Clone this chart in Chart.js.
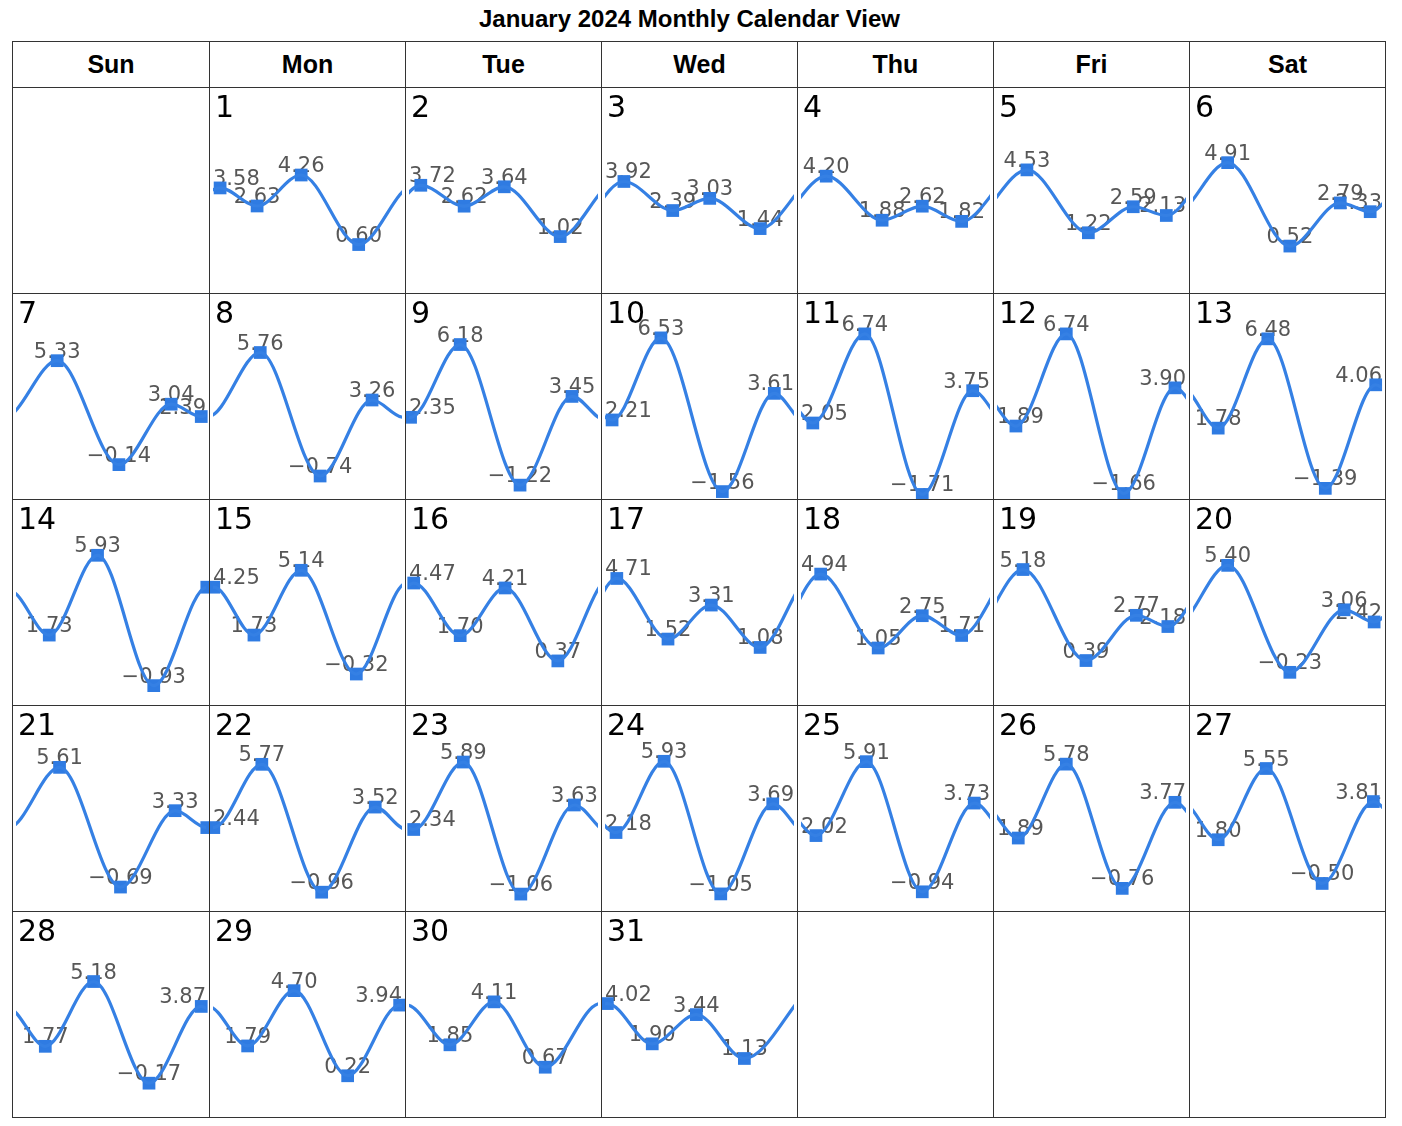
<!DOCTYPE html>
<html>
<head>
<meta charset="utf-8">
<script src="https://cdn.jsdelivr.net/npm/chart.js@4.4.1/dist/chart.umd.min.js"></script>
<style>
  html, body { margin: 0; padding: 0; background: #fff; }
  body { width: 1402px; height: 1126px; position: relative; overflow: hidden; font-family: "Liberation Sans", Arial, sans-serif; }
  #title { position: absolute; left: 0; width: 1379px; top: 5px; text-align: center; font: bold 24px "Liberation Sans", Arial, sans-serif; color: #000; line-height: 28px; }
  .cell { position: absolute; box-sizing: border-box; border: 1px solid #333; background: #fff; }
  .head { display: flex; align-items: center; justify-content: center; font: bold 25px "Liberation Sans", Arial, sans-serif; color: #000; }
  .daynum { position: absolute; left: 5px; top: 4px; font: 30px "DejaVu Sans", sans-serif; color: #000; line-height: 1; z-index: 2; pointer-events: none; }
  canvas { position: absolute; left: 0; top: 0; }
</style>
</head>
<body>
<div id="title">January 2024 Monthly Calendar View</div>
<div id="grid"></div>
<script>
// ---------------- data ----------------
const monthTitle = "January 2024 Monthly Calendar View";
const weekdays = ["Sun", "Mon", "Tue", "Wed", "Thu", "Fri", "Sat"];
const firstWeekday = 1;   // Jan 1 2024 is a Monday
const daysInMonth = 31;

// hour of day of each high / low tide marker, per day (Jan 1 .. Jan 31)
const tideHours = [
  [0.9, 5.6, 11.2, 18.5],   // 1
  [1.5, 7.0, 12.1, 19.2],   // 2
  [2.4, 8.6, 13.3, 19.7],   // 3
  [3.2, 10.3, 15.4, 20.4],  // 4
  [3.8, 11.6, 17.3, 21.5],  // 5
  [4.4, 12.3, 18.7, 22.5],  // 6
  [5.2, 13.0, 19.6, 23.4],  // 7
  [6.0, 13.6, 20.2],        // 8
  [0.2, 6.5, 14.1, 20.7],   // 9
  [0.9, 7.1, 14.9, 21.5],   // 10
  [1.5, 8.1, 15.4, 21.8],   // 11
  [2.4, 8.8, 16.1, 22.6],   // 12
  [3.2, 9.5, 16.8, 23.2],   // 13
  [4.2, 10.3, 17.4],        // 14
  [0.1, 5.2, 11.2, 18.2],   // 15
  [0.6, 6.5, 12.2, 18.9],   // 16
  [1.5, 8.0, 13.5, 19.7],   // 17
  [2.5, 9.8, 15.4, 20.4],   // 18
  [3.3, 11.3, 17.7, 21.7],  // 19
  [4.4, 12.3, 19.2, 23.0],  // 20
  [5.5, 13.2, 20.1],        // 21
  [0.1, 6.2, 13.8, 20.6],   // 22
  [0.6, 6.9, 14.2, 21.0],   // 23
  [1.4, 7.5, 14.7, 21.3],   // 24
  [1.9, 8.3, 15.4, 22.0],   // 25
  [2.7, 8.8, 15.9, 22.6],   // 26
  [3.2, 9.3, 16.4, 22.9],   // 27
  [3.7, 9.8, 16.8, 23.4],   // 28
  [4.4, 10.3, 17.1, 23.7],  // 29
  [5.2, 10.8, 17.3],        // 30
  [0.3, 6.0, 11.6, 17.7]    // 31
];
// tide height at each marker, per day
const tideHeights = [
  [3.58, 2.63, 4.26, 0.60],
  [3.72, 2.62, 3.64, 1.02],
  [3.92, 2.39, 3.03, 1.44],
  [4.20, 1.88, 2.62, 1.82],
  [4.53, 1.22, 2.59, 2.13],
  [4.91, 0.52, 2.79, 2.33],
  [5.33, -0.14, 3.04, 2.39],
  [5.76, -0.74, 3.26],
  [2.35, 6.18, -1.22, 3.45],
  [2.21, 6.53, -1.56, 3.61],
  [2.05, 6.74, -1.71, 3.75],
  [1.89, 6.74, -1.66, 3.90],
  [1.78, 6.48, -1.39, 4.06],
  [1.73, 5.93, -0.93],
  [4.25, 1.73, 5.14, -0.32],
  [4.47, 1.70, 4.21, 0.37],
  [4.71, 1.52, 3.31, 1.08],
  [4.94, 1.05, 2.75, 1.71],
  [5.18, 0.39, 2.77, 2.18],
  [5.40, -0.23, 3.06, 2.42],
  [5.61, -0.69, 3.33],
  [2.44, 5.77, -0.96, 3.52],
  [2.34, 5.89, -1.06, 3.63],
  [2.18, 5.93, -1.05, 3.69],
  [2.02, 5.91, -0.94, 3.73],
  [1.89, 5.78, -0.76, 3.77],
  [1.80, 5.55, -0.50, 3.81],
  [1.77, 5.18, -0.17, 3.87],
  [1.79, 4.70, 0.22, 3.94],
  [1.85, 4.11, 0.67],
  [4.02, 1.90, 3.44, 1.13]
];
// neighbouring tides outside the month (hours relative to Jan 1 / Jan 31 midnight)
const dec31Hours = [-6.6];
const dec31Heights = [0.30];
const feb1Hours = [25.4];
const feb1Heights = [4.60];

// ---------------- layout ----------------
const colX = [12, 209, 405, 601, 797, 993, 1189, 1385];
const rowY = [41, 87, 293, 499, 705, 911, 1117];
const LINE = '#3580e4';
const MARK = '#2f7be2';
const yMin = -1.95, yMax = 8.84;
const edgeTol = 0.15;   // neighbour markers shown only when sitting on the day boundary

const grid = document.getElementById('grid');
document.getElementById('title').textContent = monthTitle;

function makeCell(c, r) {
  const d = document.createElement('div');
  d.className = 'cell';
  d.style.left = colX[c] + 'px';
  d.style.top = rowY[r] + 'px';
  d.style.width = (colX[c + 1] - colX[c] + 1) + 'px';
  d.style.height = (rowY[r + 1] - rowY[r] + 1) + 'px';
  grid.appendChild(d);
  return d;
}

weekdays.forEach((w, c) => {
  const d = makeCell(c, 0);
  d.classList.add('head');
  d.textContent = w;
});

function pts(hours, heights, shift) {
  return hours.map((h, i) => ({ x: h + shift, y: heights[i] }));
}

const labelPlugin = {
  id: 'tideLabels',
  beforeDatasetsDraw(chart) {
    const meta = chart.getDatasetMeta(1);
    const ds = chart.data.datasets[1];
    const area = chart.chartArea;
    const ctx = chart.ctx;
    ctx.save();
    ctx.font = '21px "DejaVu Sans", sans-serif';
    ctx.fillStyle = '#575757';
    ctx.textBaseline = 'alphabetic';
    ctx.textAlign = 'left';
    meta.data.forEach((el, i) => {
      const raw = ds.data[i];
      if (!raw.own) return;
      const txt = raw.y.toFixed(2).replace('-', '\u2212');
      const w = ctx.measureText(txt).width;
      let left = el.x - w / 2;
      if (left < area.left) left = area.left;
      if (left + w > area.right) left = area.right - w;
      ctx.fillText(txt, left, el.y - 3);
    });
    ctx.restore();
  }
};

for (let r = 0; r < 5; r++) {
  for (let c = 0; c < 7; c++) {
    const cell = makeCell(c, r + 1);
    const day = r * 7 + c - firstWeekday + 1;
    if (day < 1 || day > daysInMonth) continue;
    const i = day - 1;
    const num = document.createElement('div');
    num.className = 'daynum';
    num.textContent = String(day);
    cell.appendChild(num);

    const W = colX[c + 1] - colX[c] - 1;
    const H = rowY[r + 2] - rowY[r + 1] - 1;
    const cv = document.createElement('canvas');
    cv.width = W; cv.height = H;
    cv.style.width = W + 'px'; cv.style.height = H + 'px';
    cell.appendChild(cv);

    const prev = i > 0 ? pts(tideHours[i - 1], tideHeights[i - 1], -24) : pts(dec31Hours, dec31Heights, 0);
    const next = i < daysInMonth - 1 ? pts(tideHours[i + 1], tideHeights[i + 1], 24) : pts(feb1Hours, feb1Heights, 0);
    const own = pts(tideHours[i], tideHeights[i], 0).map(p => ({ x: p.x, y: p.y, own: true }));
    const linePts = prev.concat(own, next);
    const markPts = own.slice();
    const pl = prev[prev.length - 1];
    if (pl.x > -edgeTol) markPts.unshift(pl);
    const nf = next[0];
    if (nf.x < 24 + edgeTol) markPts.push(nf);

    new Chart(cv, {
      type: 'line',
      data: {
        datasets: [
          {
            data: linePts,
            borderColor: LINE,
            borderWidth: 3.2,
            pointRadius: 0,
            cubicInterpolationMode: 'monotone',
            fill: false,
            clip: 0
          },
          {
            data: markPts,
            showLine: false,
            pointStyle: 'rect',
            pointRadius: 9,
            pointBackgroundColor: MARK,
            pointBorderColor: MARK,
            pointBorderWidth: 0,
            clip: false
          }
        ]
      },
      options: {
        responsive: false,
        animation: false,
        events: [],
        layout: { autoPadding: false, padding: { left: 3, right: 3, top: 0, bottom: 0 } },
        plugins: { legend: { display: false }, tooltip: { enabled: false }, title: { display: false } },
        scales: {
          x: { type: 'linear', min: 0, max: 24, display: false },
          y: { type: 'linear', min: yMin, max: yMax, display: false }
        }
      },
      plugins: [labelPlugin]
    });
  }
}
</script>
</body>
</html>
